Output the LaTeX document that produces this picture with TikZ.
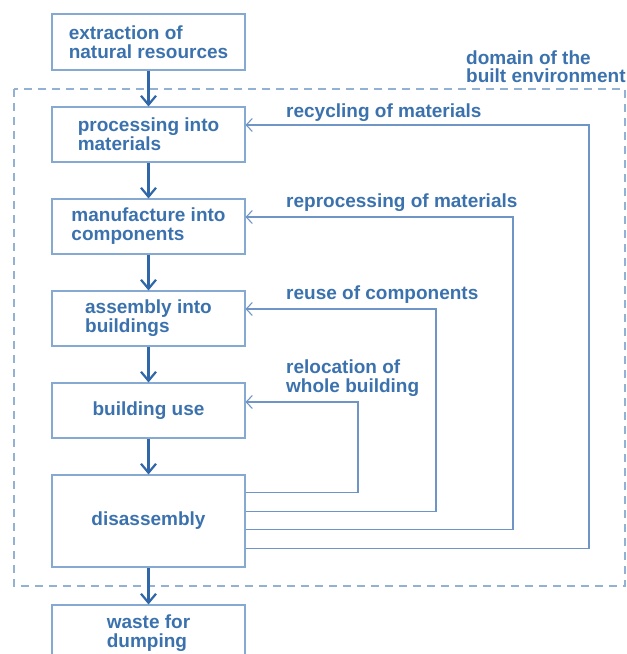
\documentclass[tikz,border=0pt]{standalone}
\usepackage{fontspec}
\setmainfont{Liberation Sans}
\usetikzlibrary{arrows.meta}

\definecolor{txt}{HTML}{3B72AE}
\definecolor{edge}{HTML}{86A9D2}
\definecolor{flow}{HTML}{2F67A8}
\definecolor{loop}{HTML}{6F95C6}
\definecolor{framecol}{HTML}{93B1D3}

\begin{document}
\begin{tikzpicture}[x=1pt,y=-1pt,
  stage/.style={draw=edge, line width=1.1pt, minimum width=193pt,
    minimum height=55pt, inner sep=0pt, align=left, text=txt,
    font=\fontsize{19}{19}\selectfont\bfseries},
  lbl/.style={inner sep=0pt, align=left, text=txt,
    font=\fontsize{19}{18.5}\selectfont\bfseries},
  flowarrow/.style={draw=flow, line width=2.6pt,
    -{Straight Barb[length=9pt,width=15pt,line width=2.2pt]}},
  looparrow/.style={draw=loop, line width=1.2pt,
    -{Straight Barb[length=6pt,width=13pt,line width=1.1pt]}},
  boundary/.style={draw=framecol, line width=1.2pt, dash pattern=on 8pt off 6pt}
]
\useasboundingbox (0,0) rectangle (627,654);
\clip (0,0) rectangle (627,654);

% boundary of the built environment
\draw[boundary] (14,89) rectangle (625,586);
\node[lbl, anchor=west] (dom) at (466,66.5) {domain of the\\built environment};

% life-cycle stages
\node[stage, minimum height=56pt] (ext)  at (148.5,42)    {extraction of\\natural resources};
\node[stage] (proc) at (148.5,134.5) {processing into\\materials};
\node[stage] (man)  at (148.5,226.5) {manufacture into\\components};
\node[stage] (asm)  at (148.5,318.5) {assembly into\\buildings};
\node[stage] (use)  at (148.5,410.5) {building use};
\node[stage, minimum height=92pt] (dis) at (148.5,521) {disassembly};
\node[stage, minimum height=56pt] (waste) at (148.5,633) {waste for\\dumping};

% main downward flow
\draw[flowarrow] (ext)  -- (proc);
\draw[flowarrow] (proc) -- (man);
\draw[flowarrow] (man)  -- (asm);
\draw[flowarrow] (asm)  -- (use);
\draw[flowarrow] (use)  -- (dis);
\draw[flowarrow] (dis)  -- (waste);

% return loops out of disassembly
\path (dis.north east) ++(0,18) coordinate (o1)
      (dis.north east) ++(0,37) coordinate (o2)
      (dis.north east) ++(0,55) coordinate (o3)
      (dis.north east) ++(0,74) coordinate (o4);
\coordinate (k1) at (358,402);
\coordinate (k2) at (436,309);
\coordinate (k3) at (513,217);
\coordinate (k4) at (589,125);

\draw[looparrow] (o1) -| (k1) -- (use.east |- k1);
\draw[looparrow] (o2) -| (k2) -- (asm.east |- k2);
\draw[looparrow] (o3) -| (k3) -- (man.east |- k3);
\draw[looparrow] (o4) -| (k4) -- (proc.east |- k4);

% loop labels
\node[lbl, anchor=base west] (l4) at (286,117) {recycling of materials};
\node[lbl, anchor=base west] (l3) at (286,207) {reprocessing of materials};
\node[lbl, anchor=base west] (l2) at (286,299) {reuse of components};
\node[lbl, anchor=west] (l1) at (286,378) {relocation of\\whole building};
\end{tikzpicture}
\end{document}
